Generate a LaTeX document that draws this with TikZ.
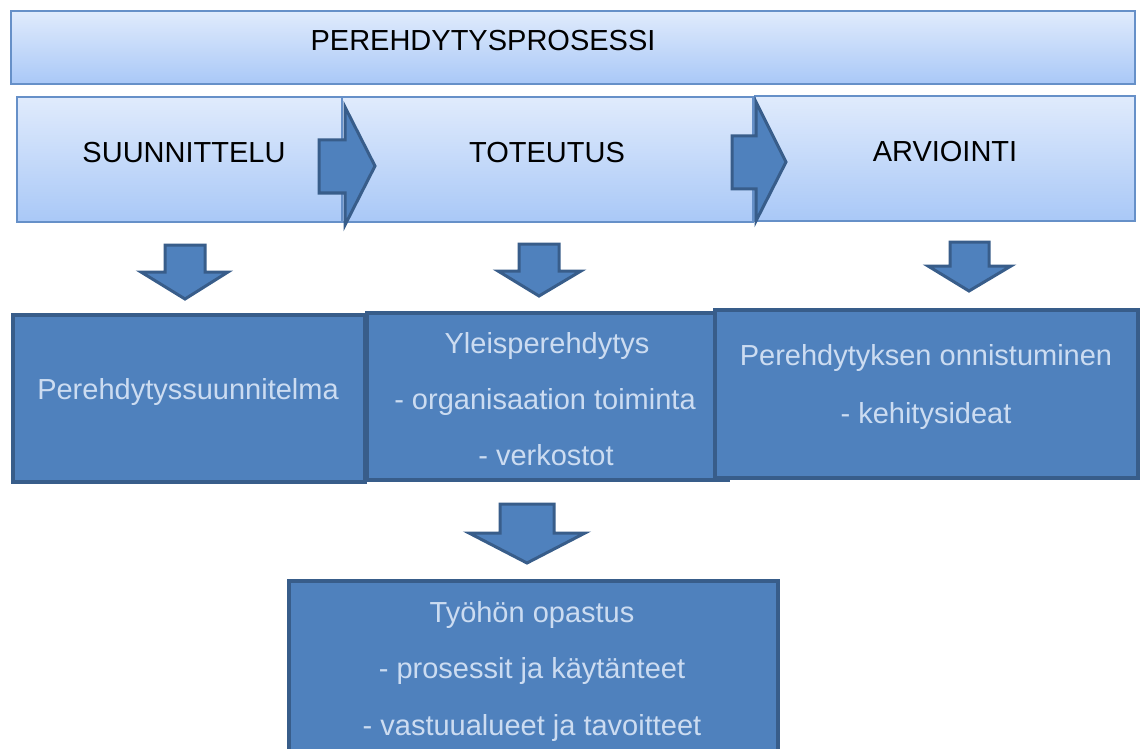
\documentclass[tikz,border=0pt]{standalone}
\usepackage{fontspec}
\setmainfont{Liberation Sans}
\definecolor{lightTop}{HTML}{E0EBFC}
\definecolor{lightBot}{HTML}{A9C8F7}
\definecolor{lightEdge}{HTML}{6690C8}
\definecolor{darkFill}{HTML}{4F81BD}
\definecolor{darkEdge}{HTML}{385D8A}
\definecolor{paleText}{HTML}{CCDCF1}
\begin{document}
\begin{tikzpicture}[x=1pt,y=-1pt,
  lightbox/.style={draw=lightEdge,line width=1.6pt,top color=lightTop,bottom color=lightBot,anchor=north west,inner sep=0pt,outer sep=0pt},
  darkbox/.style={draw=darkEdge,line width=4pt,fill=darkFill,anchor=north west,inner sep=0pt,outer sep=0pt},
  blockarrow/.style={draw=darkEdge,line width=3pt,fill=darkFill,line join=miter},
  headtext/.style={font=\fontsize{29pt}{35pt}\selectfont,text=black,anchor=base,inner sep=0pt},
  bodytext/.style={font=\fontsize{29pt}{35pt}\selectfont,text=paleText,anchor=base,inner sep=0pt}]
\useasboundingbox (0,0) rectangle (1141,749);
\fill[white] (0,0) rectangle (1141,749);
% top bar
\node[lightbox,minimum width=1124pt,minimum height=73pt] (bar) at (11,11) {};
\node[headtext] (bart) at (483,51) {PEREHDYTYSPROSESSI};
% phase boxes
\node[lightbox,minimum width=325pt,minimum height=125pt] (suu) at (17,97) {};
\node[lightbox,minimum width=411pt,minimum height=125pt] (tot) at (342,97) {};
\node[lightbox,minimum width=380pt,minimum height=125pt] (arv) at (755,96) {};
\node[headtext] (suut) at (184,163) {SUUNNITTELU};
\node[headtext] (tott) at (547,163) {TOTEUTUS};
\node[headtext] (arvt) at (945,161) {ARVIOINTI};
% right arrows
\path[blockarrow] (319,140) -- (345,140) -- (345,107) -- (375,166) -- (345,225) -- (345,193) -- (319,193) -- cycle;
\path[blockarrow] (732,136) -- (756,136) -- (756,102) -- (786,162) -- (756,221) -- (756,189) -- (732,189) -- cycle;
% down arrows
\path[blockarrow] (165,245) -- (205,245) -- (205,272) -- (228,272) -- (185,299) -- (141,272) -- (165,272) -- cycle;
\path[blockarrow] (519,244) -- (559,244) -- (559,271) -- (581,271) -- (539,296) -- (498,271) -- (519,271) -- cycle;
\path[blockarrow] (950,242) -- (989,242) -- (989,266) -- (1011,266) -- (969,291) -- (928,266) -- (950,266) -- cycle;
\path[blockarrow] (500,504) -- (554,504) -- (554,533) -- (585,533) -- (527,563) -- (469,533) -- (500,533) -- cycle;
% content boxes
\node[darkbox,minimum width=352pt,minimum height=167pt] (b1) at (13,315) {};
\node[darkbox,minimum width=361pt,minimum height=167pt] (b2) at (367,313) {};
\node[darkbox,minimum width=423pt,minimum height=168pt] (b3) at (715,310) {};
\node[darkbox,minimum width=489pt,minimum height=200pt] (b4) at (289,581) {};
% content texts
\node[bodytext] (t1) at (188,399) {Perehdytyssuunnitelma};
\node[bodytext] (t2a) at (547,353) {Yleisperehdytys};
\node[bodytext] (t2b) at (545,409) {- organisaation toiminta};
\node[bodytext] (t2c) at (546,465) {- verkostot};
\node[bodytext] (t3a) at (926,365) {Perehdytyksen onnistuminen};
\node[bodytext] (t3b) at (926,423) {- kehitysideat};
\node[bodytext] (t4a) at (532,622) {Työhön opastus};
\node[bodytext] (t4b) at (532,678) {- prosessit ja käytänteet};
\node[bodytext] (t4c) at (532,735) {- vastuualueet ja tavoitteet};
\end{tikzpicture}
\end{document}
